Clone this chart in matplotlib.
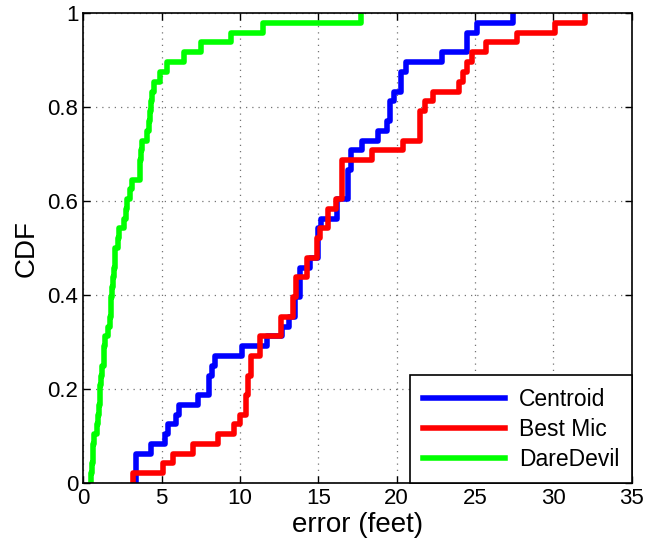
import numpy as np
import matplotlib
matplotlib.use("Agg")
import matplotlib.pyplot as plt
from matplotlib.ticker import FuncFormatter

plt.rcParams['font.family'] = ['Liberation Sans', 'DejaVu Sans']

# step points of each empirical CDF (error in feet, CDF level after the step)
centroid_x = [3.4, 3.4, 4.3, 5.2, 5.4, 5.9, 6.1, 7.3, 8.0, 8.2, 8.4, 10.1, 11.7,
              12.7, 13.1, 13.5, 13.8, 14.5, 15.0, 15.2, 16.2, 16.9, 17.1, 17.8,
              18.8, 19.4, 19.6, 19.8, 20.3, 20.6, 22.9, 24.5, 25.1, 27.4]
centroid_y = [0.0, 0.0625, 0.083, 0.104, 0.125, 0.146, 0.167, 0.188, 0.229, 0.25,
              0.271, 0.292, 0.313, 0.333, 0.354, 0.396, 0.458, 0.479, 0.542,
              0.563, 0.604, 0.667, 0.708, 0.729, 0.75, 0.771, 0.813, 0.833,
              0.875, 0.896, 0.917, 0.958, 0.979, 1.0]

bestmic_x = [3.2, 3.2, 5.1, 5.7, 7.0, 8.6, 9.6, 10.0, 10.4, 10.5, 10.7, 11.3,
             12.6, 13.4, 13.6, 14.3, 14.9, 15.1, 15.6, 16.1, 16.5, 18.4, 20.4,
             21.5, 21.8, 22.3, 24.0, 24.2, 24.5, 24.8, 25.7, 27.7, 30.1, 32.0]
bestmic_y = [0.0, 0.021, 0.042, 0.063, 0.083, 0.104, 0.125, 0.146, 0.188, 0.229,
             0.271, 0.313, 0.354, 0.396, 0.438, 0.479, 0.521, 0.542, 0.583,
             0.604, 0.688, 0.708, 0.729, 0.792, 0.813, 0.833, 0.854, 0.875,
             0.896, 0.917, 0.938, 0.958, 0.979, 1.0]

daredevil_x = [0.5, 0.5, 0.55, 0.6, 0.65, 0.7, 0.9, 0.95, 1.0, 1.05, 1.1, 1.15,
               1.2, 1.3, 1.35, 1.4, 1.6, 1.7, 1.75, 1.8, 1.85, 1.9, 1.95, 2.0,
               2.05, 2.2, 2.3, 2.6, 2.7, 2.8, 3.0, 3.1, 3.6, 3.65, 3.7, 3.75,
               4.1, 4.2, 4.25, 4.3, 4.4, 4.5, 4.9, 5.35, 6.4, 7.5, 9.4, 11.5, 17.7]
daredevil_y = [0.0, 0.021, 0.042, 0.063, 0.083, 0.104, 0.125, 0.146, 0.167,
               0.188, 0.208, 0.229, 0.25, 0.271, 0.292, 0.313, 0.333, 0.354,
               0.375, 0.396, 0.417, 0.438, 0.458, 0.479, 0.5, 0.521, 0.542,
               0.563, 0.583, 0.604, 0.625, 0.646, 0.667, 0.688, 0.708, 0.729,
               0.75, 0.771, 0.792, 0.813, 0.833, 0.854, 0.875, 0.896, 0.917,
               0.938, 0.958, 0.979, 1.0]

fig = plt.figure(figsize=(6.5, 5.46), dpi=100)
ax = fig.add_axes([0.128, 0.115, 0.844, 0.861])

lw = 4
ax.step(centroid_x, centroid_y, where='post', color=(0, 0, 1), lw=lw, label='Centroid')
ax.step(bestmic_x, bestmic_y, where='post', color=(1, 0, 0), lw=lw, label='Best Mic')
ax.step(daredevil_x, daredevil_y, where='post', color=(0, 1, 0), lw=lw, label='DareDevil')

ax.set_xlim(0, 35)
ax.set_ylim(0, 1)
ax.set_xticks(np.arange(0, 36, 5))
ax.set_yticks(np.arange(0, 1.01, 0.2))
ax.yaxis.set_major_formatter(FuncFormatter(lambda v, p: '%g' % round(v, 1)))
ax.tick_params(direction='in', top=True, right=True, labelsize=16, length=5, width=1)
ax.grid(True, linestyle=(0, (1, 4)), color='0.45', lw=0.9)
for s in ax.spines.values():
    s.set_linewidth(1.2)

ax.set_xlabel('error (feet)', fontsize=20, labelpad=2)
ax.set_ylabel('CDF', fontsize=20, labelpad=6)

leg = ax.legend(loc='lower right', fontsize=16.5, fancybox=False, framealpha=1,
                edgecolor='black', borderaxespad=0, handlelength=3.6,
                handletextpad=0.6, labelspacing=0.3, borderpad=0.55)
leg.get_frame().set_linewidth(1.2)

fig.savefig('out.png', dpi=100)
